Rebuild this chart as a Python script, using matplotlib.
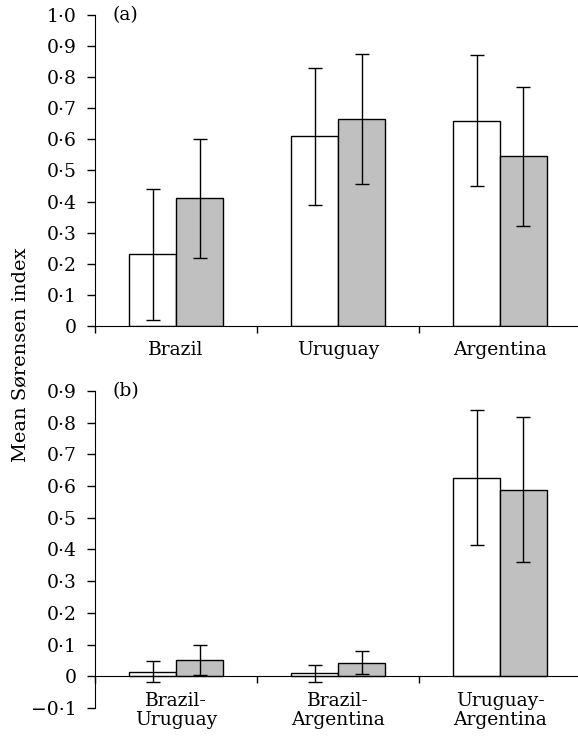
import matplotlib
matplotlib.use("Agg")
import matplotlib.pyplot as plt
import numpy as np

plt.rcParams['font.family'] = ['DejaVu Serif']

# panel (a): within-country similarity
cats_a = ["Brazil", "Uruguay", "Argentina"]
white_a = [0.23, 0.61, 0.66]
white_a_err = [0.21, 0.22, 0.21]
grey_a = [0.41, 0.665, 0.545]
grey_a_err = [0.19, 0.21, 0.225]

# panel (b): between-country similarity
cats_b = ["Brazil-\nUruguay", "Brazil-\nArgentina", "Uruguay-\nArgentina"]
white_b = [0.015, 0.01, 0.627]
white_b_err = [0.033, 0.027, 0.213]
grey_b = [0.052, 0.043, 0.589]
grey_b_err = [0.048, 0.036, 0.23]

FS = 13.5


def fmt(v):
    if abs(v) < 1e-9:
        return "0"
    s = "%.1f" % abs(v)
    s = s.replace(".", "\u00b7")
    return ("\u2212" + s) if v < 0 else s


def bar_panel(ax, cats, w, we, g, ge, ymin, ymax, letter):
    x = np.arange(len(cats))
    bw = 0.29
    ebar = dict(ecolor='black', elinewidth=1, capsize=5, capthick=1)
    ax.bar(x - bw / 2, w, bw, yerr=we, color='white', edgecolor='black',
           linewidth=1, error_kw=ebar)
    ax.bar(x + bw / 2, g, bw, yerr=ge, color='#c0c0c0', edgecolor='black',
           linewidth=1, error_kw=ebar)
    ax.set_xlim(-0.5, len(cats) - 0.5)
    ax.set_ylim(ymin, ymax)
    ax.spines['top'].set_visible(False)
    ax.spines['right'].set_visible(False)
    ax.spines['bottom'].set_position(('data', 0))
    ax.spines['left'].set_bounds(ymin, ymax)
    # category boundaries as major ticks, labels on minor ticks
    ax.set_xticks(np.arange(-0.5, len(cats), 1.0))
    ax.set_xticklabels([])
    ax.set_xticks(x, minor=True)
    ax.set_xticklabels(cats, minor=True, fontsize=FS, linespacing=1.1)
    ax.tick_params(axis='x', which='major', direction='out', length=5, width=1)
    ax.tick_params(axis='x', which='minor', length=0, pad=11)
    yt = np.round(np.arange(ymin, ymax + 0.001, 0.1), 1)
    ax.set_yticks(yt)
    ax.set_yticklabels([fmt(v) for v in yt], fontsize=FS)
    ax.tick_params(axis='y', direction='out', length=6, width=1, pad=7)
    ax.text(0.035, 1.0, letter, transform=ax.transAxes, fontsize=FS,
            va='center', ha='left')


fig = plt.figure(figsize=(5.78, 7.38), dpi=100)
ax1 = fig.add_axes([0.1644, 0.5583, 0.8408, 0.4214])
ax2 = fig.add_axes([0.1644, 0.0407, 0.8408, 0.4295])

bar_panel(ax1, cats_a, white_a, white_a_err, grey_a, grey_a_err, 0.0, 1.0, "(a)")
bar_panel(ax2, cats_b, white_b, white_b_err, grey_b, grey_b_err, -0.1, 0.9, "(b)")

fig.text(0.035, 0.519, "Mean Sørensen index", rotation=90, fontsize=14,
         va='center', ha='center')

fig.savefig("out.png", dpi=100)
